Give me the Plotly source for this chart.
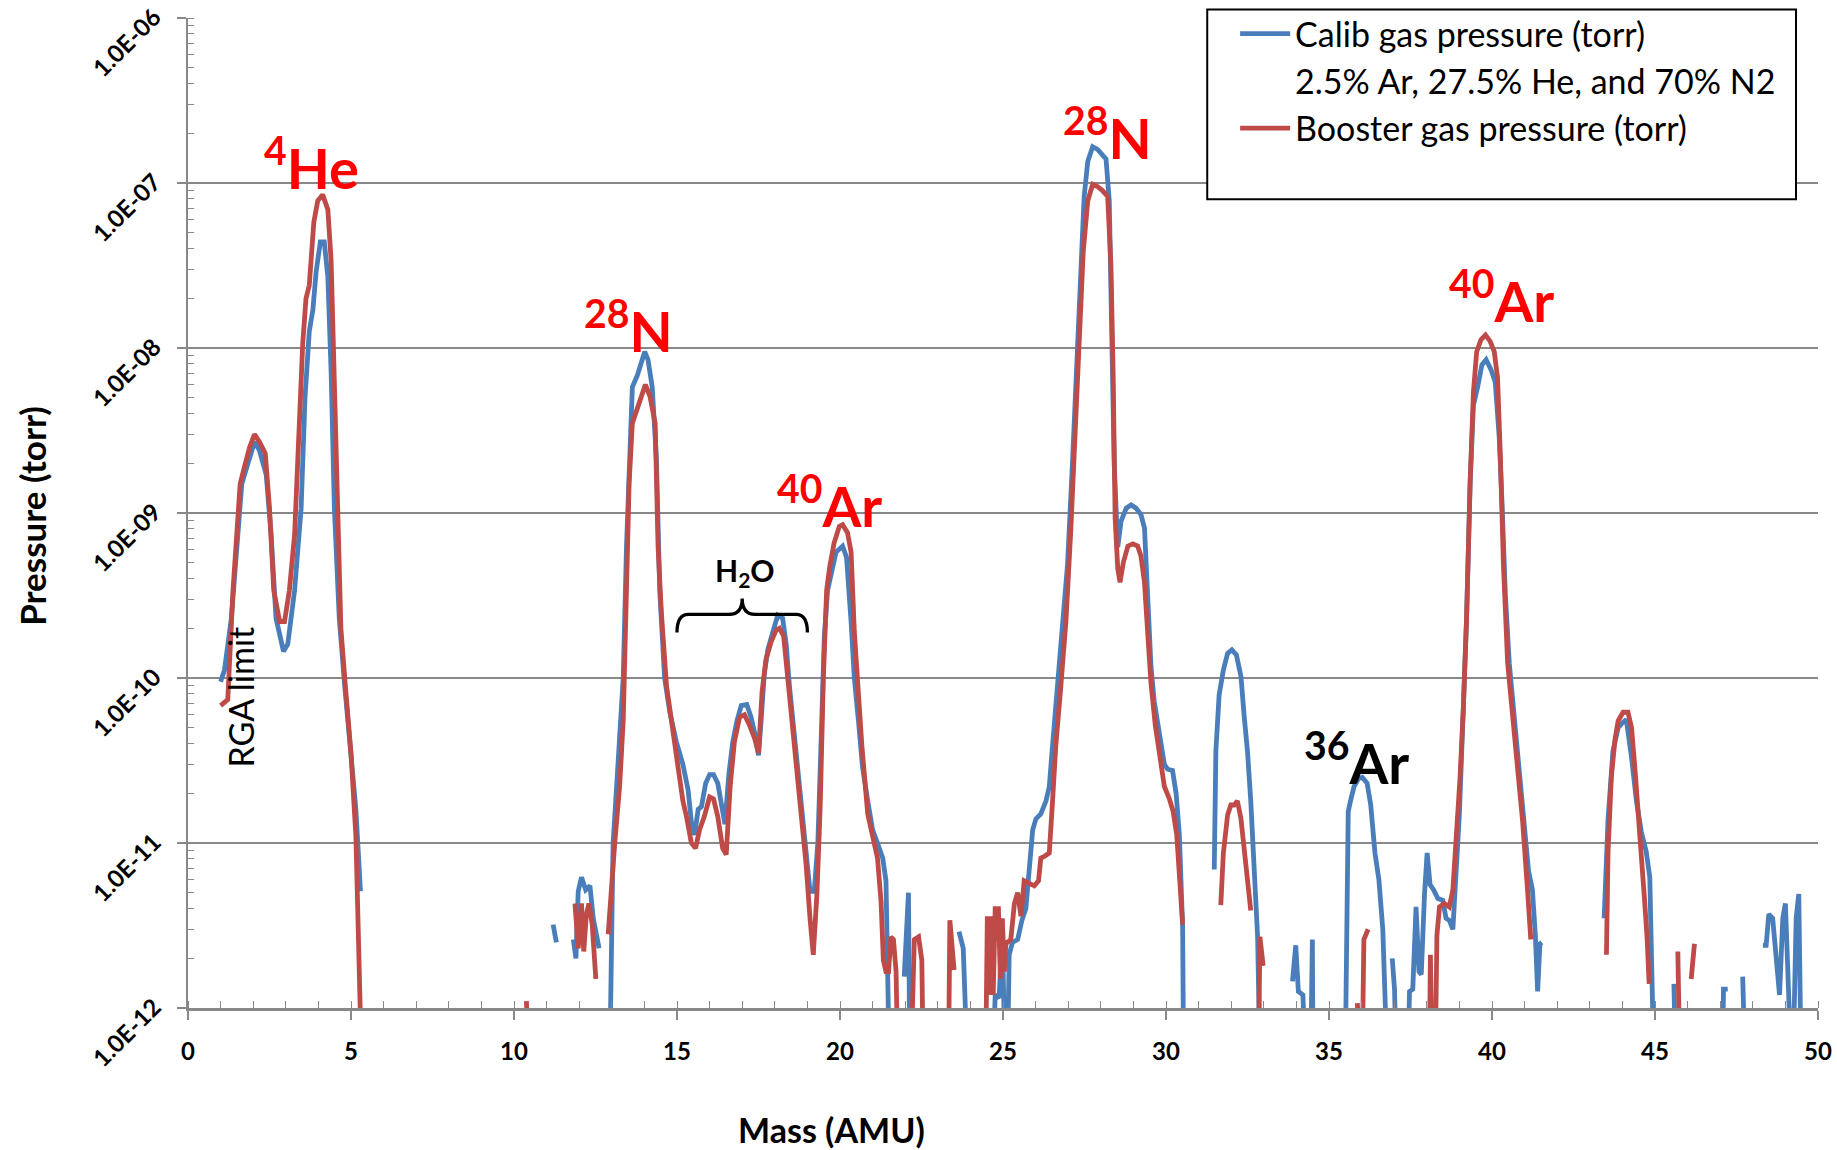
import plotly.graph_objects as go

# ---------------------------------------------------------------------------
# RGA mass scans: partial pressure (torr) vs. mass (AMU).
# None marks readings the RGA reported as non-positive (not drawable on log axis).
# ---------------------------------------------------------------------------
calib_mass = [
    1.0, 1.12, 1.33, 1.53, 1.65, 1.84, 2.04, 2.19, 2.40, 2.55, 2.70, 2.93, 3.06, 3.27,
    3.47, 3.59, 3.72, 3.83, 3.93, 4.06, 4.18, 4.29, 4.39, 4.49, 4.64, 4.80, 5.00, 5.15,
    5.29, 5.40,
    11.2, 11.3, 11.35,
    11.82, 11.9, 11.97, 12.07, 12.2, 12.33, 12.43, 12.61, 12.7,
    12.94, 13.04, 13.19, 13.35, 13.45, 13.53, 13.63, 13.78, 13.91, 14.01, 14.11, 14.24,
    14.37, 14.47, 14.62, 14.78, 14.98, 15.18, 15.34, 15.44, 15.54, 15.65, 15.75, 15.88,
    16.0, 16.12, 16.25, 16.37, 16.47, 16.59, 16.71, 16.84, 16.97, 17.14, 17.27, 17.41,
    17.50, 17.58, 17.68, 17.79, 17.94, 18.09, 18.24, 18.35, 18.45, 18.55, 18.67, 18.81,
    18.96, 19.08, 19.21, 19.32, 19.42, 19.52, 19.62, 19.72, 19.88, 20.08, 20.2, 20.34,
    20.44, 20.57, 20.69, 20.85, 21.0, 21.15, 21.31, 21.41, 21.46, 21.51, 21.6,
    21.97, 22.1, 22.14, 22.2,
    23.65, 23.78, 23.9, 24.0,
    24.7, 24.76, 24.88, 24.98, 25.06, 25.14, 25.19, 25.29, 25.45, 25.58, 25.70, 25.83,
    25.91, 26.01, 26.16, 26.32, 26.42, 26.52, 26.67, 26.83, 26.98, 27.13, 27.26, 27.36,
    27.49, 27.6, 27.75, 27.9, 28.05, 28.16, 28.26, 28.34, 28.41, 28.52, 28.62, 28.78,
    28.93, 29.08, 29.23, 29.34, 29.44, 29.54, 29.64, 29.80, 29.95, 30.05, 30.2, 30.31,
    30.41, 30.51, 30.54, 30.6,
    31.48, 31.53, 31.63, 31.76, 31.89, 32.02, 32.16, 32.3, 32.4, 32.5, 32.6, 32.7,
    32.81, 32.88, 32.95,
    33.88, 33.98, 34.06, 34.2, 34.27, 34.35,
    34.44, 34.49, 34.51, 34.6,
    35.5, 35.59, 35.66, 35.77, 35.9, 36.02, 36.17, 36.28, 36.41, 36.53, 36.65, 36.72,
    36.78, 36.85,
    36.94, 37.01, 37.06, 37.2,
    37.42, 37.47, 37.57, 37.67, 37.76, 37.83, 37.93, 38.01, 38.1, 38.21, 38.34, 38.49,
    38.59, 38.69, 38.8, 38.88, 39.0, 39.12, 39.22, 39.33, 39.43, 39.56, 39.69, 39.82,
    39.97, 40.1, 40.22, 40.31, 40.41, 40.53, 40.68, 40.82, 40.96, 41.12, 41.24, 41.33,
    41.4, 41.47, 41.53, 41.6,
    43.44, 43.56, 43.71, 43.87, 44.02, 44.12, 44.28, 44.43, 44.58, 44.73, 44.84, 44.89,
    44.96, 45.1,
    45.58, 45.63, 45.7,
    47.08, 47.1, 47.23, 47.3,
    47.69, 47.76, 47.8,
    48.31, 48.41, 48.49, 48.61, 48.82, 48.92, 49.0, 49.1, 49.17, 49.24, 49.33, 49.41,
    49.48,
]
calib_torr = [
    9.5e-11, 1.12e-10, 2.3e-10, 8.5e-10, 1.5e-9, 2.0e-9, 2.7e-9, 2.4e-9, 1.7e-9, 7.4e-10,
    2.3e-10, 1.45e-10, 1.6e-10, 3.4e-10, 1.07e-9, 5.0e-9, 1.26e-8, 1.7e-8, 2.9e-8, 4.4e-8,
    4.4e-8, 2.7e-8, 7.2e-9, 1.07e-9, 2.3e-10, 9.3e-11, 3.5e-11, 1.6e-11, 5.1e-12, None,
    3.2e-12, 2.5e-12, None,
    2.6e-12, 2.0e-12, 5.1e-12, 6.2e-12, 5.2e-12, 5.5e-12, 3.5e-12, 2.3e-12, None,
    5e-13, 1.0e-11, 3.0e-11, 1.0e-10, 6.2e-10, 2.1e-9, 5.8e-9, 6.8e-9, 8.3e-9, 9.5e-9,
    8.5e-9, 5.8e-9, 2.1e-9, 3.4e-10, 1.0e-10, 6.2e-11, 4.1e-11, 3.0e-11, 2.1e-11,
    1.35e-11, 1.12e-11, 1.6e-11, 1.66e-11, 2.3e-11, 2.6e-11, 2.6e-11, 2.3e-11, 1.7e-11,
    1.3e-11, 2.6e-11, 4.1e-11, 5.5e-11, 6.8e-11, 6.9e-11, 5.8e-11, 4.4e-11, 3.4e-11,
    5.5e-11, 1.07e-10, 1.5e-10, 1.95e-10, 2.4e-10, 2.3e-10, 1.6e-10, 8.9e-11, 5.5e-11,
    3.2e-11, 1.8e-11, 8.9e-12, 5.1e-12, 5.1e-12, 1.0e-11, 4.1e-11, 1.8e-10, 3.4e-10,
    4.3e-10, 5.8e-10, 6.3e-10, 5.4e-10, 2.2e-10, 1.0e-10, 5.4e-11, 2.9e-11, 1.8e-11,
    1.2e-11, 1.0e-11, 8.1e-12, 5.9e-12, 1.66e-12, 5e-13, None,
    1.55e-12, 5.0e-12, 5e-13, None,
    2.9e-12, 2.3e-12, 5e-13, None,
    5e-13, 1.2e-12, 1.15e-12, 2.9e-12, 5e-13, 5e-13, 2.1e-12, 2.5e-12, 2.6e-12, 3.4e-12,
    4.0e-12, 8.1e-12, 1.2e-11, 1.4e-11, 1.5e-11, 1.8e-11, 2.2e-11, 3.9e-11, 8.7e-11,
    1.9e-10, 4.9e-10, 2.0e-9, 8.5e-9, 2.6e-8, 8.3e-8, 1.35e-7, 1.66e-7, 1.6e-7, 1.5e-7,
    1.4e-7, 7.8e-8, 1.48e-8, 2.0e-9, 6.2e-10, 8.9e-10, 1.07e-9, 1.12e-9, 1.07e-9,
    9.8e-10, 8.1e-10, 3.0e-10, 1.17e-10, 7.2e-11, 4.4e-11, 3.0e-11, 2.8e-11, 2.75e-11,
    2.0e-11, 1.12e-11, 3.1e-12, 5e-13, None,
    6.9e-12, 3.6e-11, 7.9e-11, 1.12e-10, 1.41e-10, 1.48e-10, 1.38e-10, 1.02e-10, 5.8e-11,
    3.6e-11, 1.8e-11, 6.9e-12, 2.7e-12, 5e-13, None,
    1.45e-12, 2.4e-12, 1.26e-12, 1.2e-12, 5e-13, None,
    5e-13, 2.6e-12, 5e-13, None,
    5e-13, 1.55e-11, 1.8e-11, 2.2e-11, 2.45e-11, 2.5e-11, 2.3e-11, 1.7e-11, 8.7e-12,
    6.0e-12, 3.0e-12, 1.5e-12, 5e-13, None,
    2.0e-12, 1.3e-12, 5e-13, None,
    5e-13, 1.26e-12, 1.3e-12, 4.1e-12, 1.66e-12, 1.6e-12, 4.9e-12, 8.7e-12, 5.6e-12,
    5.2e-12, 4.6e-12, 4.5e-12, 3.5e-12, 3.4e-12, 3.0e-12, 5.2e-12, 1.5e-11, 6.5e-11,
    2.3e-10, 1.55e-9, 4.5e-9, 5.8e-9, 7.9e-9, 8.5e-9, 7.4e-9, 6.2e-9, 2.9e-9, 1.12e-9,
    3.2e-10, 1.23e-10, 5.8e-11, 2.7e-11, 1.35e-11, 6.8e-12, 5.2e-12, 2.75e-12, 1.26e-12,
    2.45e-12, 2.5e-12, None,
    3.5e-12, 1.4e-11, 3.6e-11, 5.0e-11, 5.4e-11, 5.6e-11, 3.3e-11, 1.8e-11, 1.17e-11,
    8.9e-12, 6.2e-12, 2.8e-12, 5e-13, None,
    1.4e-12, 5e-13, None,
    5e-13, 1.3e-12, 1.3e-12, None,
    1.55e-12, 5e-13, None,
    2.4e-12, 2.4e-12, 3.7e-12, 3.5e-12, 1.2e-12, 3.5e-12, 4.3e-12, 1.4e-12, 5e-13, 5e-13,
    3.5e-12, 4.9e-12, 5e-13,
]

booster_mass = [
    1.0, 1.22, 1.38, 1.48, 1.60, 1.73, 1.89, 2.04, 2.19, 2.37, 2.50, 2.63, 2.81, 2.96,
    3.11, 3.27, 3.42, 3.52, 3.62, 3.72, 3.86, 3.98, 4.13, 4.29, 4.39, 4.49, 4.59, 4.69,
    4.82, 5.0, 5.15, 5.22, 5.29, 5.32, 5.4,
    10.38, 10.45, 10.5,
    11.87, 11.97, 12.07, 12.14, 12.22, 12.3, 12.4, 12.51, 12.6,
    12.89, 12.99, 13.09, 13.24, 13.35, 13.45, 13.53, 13.63, 13.78, 13.91, 14.03, 14.17,
    14.33, 14.42, 14.52, 14.68, 14.83, 15.03, 15.18, 15.29, 15.44, 15.57, 15.69, 15.84,
    16.0, 16.12, 16.25, 16.4, 16.51, 16.63, 16.76, 16.92, 17.07, 17.22, 17.38, 17.5,
    17.61, 17.73, 17.89, 18.04, 18.14, 18.27, 18.4, 18.52, 18.65, 18.81, 18.96, 19.08,
    19.18, 19.29, 19.39, 19.49, 19.59, 19.69, 19.82, 19.98, 20.08, 20.23, 20.34, 20.44,
    20.54, 20.67, 20.85, 21.0, 21.15, 21.26, 21.33, 21.41, 21.49, 21.56, 21.64, 21.72,
    21.77, 21.9,
    22.18, 22.28, 22.41, 22.51, 22.55, 22.6,
    23.33, 23.37, 23.5, 23.6,
    24.47, 24.52, 24.58, 24.64, 24.7, 24.76, 24.86, 24.92, 24.98, 25.04, 25.09, 25.14,
    25.24, 25.35, 25.45, 25.55, 25.65, 25.81, 25.96, 26.09, 26.16, 26.27, 26.42, 26.52,
    26.62, 26.77, 26.93, 27.08, 27.21, 27.33, 27.46, 27.6, 27.75, 27.9, 28.05, 28.21,
    28.31, 28.38, 28.44, 28.52, 28.59, 28.69, 28.83, 28.98, 29.13, 29.23, 29.34, 29.44,
    29.54, 29.67, 29.8, 29.95, 30.1, 30.22, 30.33, 30.41, 30.51, 30.6,
    31.68, 31.76, 31.89, 31.99, 32.09, 32.19, 32.3, 32.4, 32.5, 32.6, 32.7,
    32.84, 32.88, 32.98, 33.05,
    35.87, 35.95, 36.0,
    36.02, 36.07, 36.2, 36.3,
    38.08, 38.11, 38.16, 38.26, 38.31, 38.39, 38.54, 38.69, 38.8, 38.9, 39.02, 39.12,
    39.22, 39.33, 39.43, 39.53, 39.66, 39.8, 39.94, 40.07, 40.17, 40.26, 40.35, 40.48,
    40.63, 40.79, 40.94, 41.09, 41.19, 41.3,
    43.51, 43.56, 43.66, 43.77, 43.87, 44.02, 44.17, 44.28, 44.38, 44.48, 44.58, 44.68,
    44.76, 44.82, 44.9,
    45.7, 45.76, 45.8,
    46.11, 46.21,
]
booster_torr = [
    6.8e-11, 7.4e-11, 3.4e-10, 7.4e-10, 1.5e-9, 1.9e-9, 2.5e-9, 3.0e-9, 2.7e-9, 2.3e-9,
    1.07e-9, 3.4e-10, 2.2e-10, 2.2e-10, 3.4e-10, 7.4e-10, 3.4e-9, 1.07e-8, 2.0e-8, 2.4e-8,
    5.8e-8, 7.8e-8, 8.5e-8, 6.9e-8, 3.4e-8, 5.0e-9, 1.07e-9, 2.0e-10, 9.3e-11, 3.5e-11,
    1.1e-11, 3.5e-12, 1.0e-12, 5e-13, None,
    1.1e-12, 5e-13, None,
    4.3e-12, 2.3e-12, 4.3e-12, 2.2e-12, 3.7e-12, 4.3e-12, 3.2e-12, 1.5e-12, None,
    2.8e-12, 5.5e-12, 1.0e-11, 2.2e-11, 5.5e-11, 3.4e-10, 1.5e-9, 3.5e-9, 4.3e-9, 5.1e-9,
    6.0e-9, 5.1e-9, 3.5e-9, 6.2e-10, 2.5e-10, 8.9e-11, 5.5e-11, 3.0e-11, 1.8e-11,
    1.45e-11, 1.0e-11, 9.3e-12, 1.2e-11, 1.45e-11, 1.9e-11, 1.85e-11, 1.45e-11, 9.3e-12,
    8.5e-12, 2.2e-11, 4.1e-11, 5.8e-11, 6.0e-11, 5.2e-11, 4.3e-11, 3.5e-11, 8.3e-11,
    1.3e-10, 1.66e-10, 1.95e-10, 2.0e-10, 1.8e-10, 1.0e-10, 5.5e-11, 3.0e-11, 1.45e-11,
    7.4e-12, 3.5e-12, 2.1e-12, 4.8e-12, 1.6e-11, 1.0e-10, 3.4e-10, 4.8e-10, 6.6e-10,
    8.3e-10, 8.5e-10, 7.6e-10, 5.8e-10, 1.9e-10, 8.7e-11, 3.9e-11, 1.5e-11, 1.12e-11,
    8.1e-12, 4.4e-12, 1.95e-12, 1.66e-12, 1.66e-12, 2.7e-12, 2.6e-12, 1.66e-12, 5e-13,
    None,
    5e-13, 2.6e-12, 2.7e-12, 1.95e-12, 5e-13, None,
    5e-13, 3.4e-12, 1.7e-12, None,
    5e-13, 3.6e-12, 1.2e-12, 3.6e-12, 1.2e-12, 4.0e-12, 4.0e-12, 1.5e-12, 3.5e-12,
    1.66e-12, 2.5e-12, 2.5e-12, 2.6e-12, 4.3e-12, 5.0e-12, 3.6e-12, 5.9e-12, 5.7e-12,
    5.5e-12, 5.9e-12, 8.1e-12, 8.3e-12, 8.7e-12, 1.8e-11, 3.9e-11, 8.7e-11, 2.2e-10,
    7.9e-10, 3.0e-9, 1.17e-8, 3.8e-8, 7.8e-8, 9.8e-8, 9.5e-8, 9.0e-8, 8.3e-8, 3.2e-8,
    6.8e-9, 9.3e-10, 4.6e-10, 3.8e-10, 5.0e-10, 6.3e-10, 6.5e-10, 6.3e-10, 5.5e-10,
    3.8e-10, 1.86e-10, 9.3e-11, 5.2e-11, 3.3e-11, 2.2e-11, 1.86e-11, 1.55e-11, 1.12e-11,
    6.9e-12, 3.2e-12, None,
    4.2e-12, 8.7e-12, 1.48e-11, 1.7e-11, 1.7e-11, 1.8e-11, 1.4e-11, 8.7e-12, 5.5e-12,
    3.9e-12, None,
    5e-13, 2.7e-12, 1.8e-12, None,
    1.07e-12, 5e-13, None,
    5e-13, 2.6e-12, 3.0e-12, None,
    5e-13, 2.1e-12, 5e-13, 5e-13, 2.75e-12, 4.1e-12, 4.3e-12, 4.1e-12, 5.2e-12, 9.8e-12,
    2.5e-11, 6.5e-11, 2.3e-10, 1.55e-9, 5.4e-9, 9.5e-9, 1.12e-8, 1.2e-8, 1.1e-8, 9.5e-9,
    6.6e-9, 2.1e-9, 4.9e-10, 1.23e-10, 5.8e-11, 2.7e-11, 1.35e-11, 5.2e-12, 2.6e-12, None,
    2.1e-12, 8.9e-12, 2.5e-11, 4.2e-11, 5.5e-11, 6.2e-11, 6.2e-11, 5.0e-11, 2.9e-11,
    1.66e-11, 9.3e-12, 4.5e-12, 2.6e-12, 1.4e-12, None,
    2.2e-12, 5e-13, None,
    1.5e-12, 2.45e-12,
]

series_names = ["Calib gas pressure (torr)", "Booster gas pressure (torr)"]
calib_mix_note = "2.5% Ar, 27.5% He, and 70% N2"

y_tick_vals = [1e-12, 1e-11, 1e-10, 1e-9, 1e-8, 1e-7, 1e-6]
y_tick_text = ["1.0E-12", "1.0E-11", "1.0E-10", "1.0E-09", "1.0E-08", "1.0E-07", "1.0E-06"]

# peak labels: (mass number, element, mass, log10 pressure, colour)
peak_labels = [
    ("4", "He", 3.79, -6.88, "#FF0000"),
    ("28", "N", 13.50, -7.87, "#FF0000"),
    ("40", "Ar", 19.68, -8.93, "#FF0000"),
    ("28", "N", 28.20, -6.70, "#FF0000"),
    ("40", "Ar", 40.30, -7.69, "#FF0000"),
    ("36", "Ar", 35.85, -10.49, "#000000"),
]

BLUE = "#4A7EBB"
RED = "#BE4B48"
GRID = "#888888"
FONT = "Lato, 'Liberation Sans', sans-serif"

W, H = 1837, 1150
M_L, M_R, M_T, M_B = 188, 19, 18, 142

fig = go.Figure()
fig.add_trace(go.Scatter(
    x=calib_mass, y=calib_torr, mode="lines", name=series_names[0],
    legendgroup="a", line=dict(color=BLUE, width=4.8), connectgaps=False,
))
fig.add_trace(go.Scatter(
    x=[None], y=[None], mode="lines", name=calib_mix_note,
    legendgroup="b", line=dict(color="rgba(0,0,0,0)", width=0), hoverinfo="skip",
))
fig.add_trace(go.Scatter(
    x=booster_mass, y=booster_torr, mode="lines", name=series_names[1],
    legendgroup="c", line=dict(color=RED, width=4.8), connectgaps=False,
))

annotations = []
for sup, elem, mx, ly, col in peak_labels:
    annotations.append(dict(
        x=mx, y=ly, xref="x", yref="y", showarrow=False,
        text=f"<sup>{sup}</sup>{elem}",
        font=dict(family=FONT, size=56, color=col, weight="bold"),
        xanchor="center", yanchor="middle",
    ))

annotations += [
    dict(x=17.09, y=-9.36, xref="x", yref="y", showarrow=False,
         text="H<sub>2</sub>O", font=dict(family=FONT, size=30, color="black", weight="bold"),
         xanchor="center", yanchor="middle"),
    dict(x=1.61, y=-10.115, xref="x", yref="y", showarrow=False, textangle=-90,
         text="RGA limit", font=dict(family=FONT, size=34, color="black"),
         xanchor="center", yanchor="middle"),
    dict(x=0.395, y=-0.1225, xref="paper", yref="paper", showarrow=False,
         text="Mass (AMU)", font=dict(family=FONT, size=34, color="black", weight="bold"),
         xanchor="center", yanchor="middle"),
    dict(x=-0.0954, y=0.4976, xref="paper", yref="paper", showarrow=False, textangle=-90,
         text="Pressure (torr)", font=dict(family=FONT, size=35, color="black", weight="bold"),
         xanchor="center", yanchor="middle"),
]

# curly brace spanning the water region (mass 15-19)
yb, yh, yt = 0.3794, 0.3976, 0.4137
brace = (f"M 15,{yb} Q 15,{yh} 15.35,{yh} L 16.6,{yh} Q 17,{yh} 17,{yt} "
         f"Q 17,{yh} 17.4,{yh} L 18.65,{yh} Q 19,{yh} 19,{yb}")

shapes = [
    dict(type="path", path=brace, xref="x", yref="paper",
         line=dict(color="black", width=3.3)),
    # legend frame
    dict(type="rect", xref="paper", yref="paper", x0=0.6253, x1=0.9865, y0=0.8168, y1=1.0087,
         line=dict(color="black", width=2), fillcolor="white", layer="above"),
]

fig.update_layout(
    width=W, height=H,
    margin=dict(l=M_L, r=M_R, t=M_T, b=M_B, pad=0, autoexpand=False),
    paper_bgcolor="white", plot_bgcolor="white",
    font=dict(family=FONT, color="black"),
    showlegend=True,
    legend=dict(
        x=0.6424, y=1.0131, xanchor="left", yanchor="top",
        bgcolor="rgba(0,0,0,0)", borderwidth=0, itemwidth=50,
        font=dict(family=FONT, size=34, color="black"),
        tracegroupgap=0, traceorder="normal",
    ),
    annotations=annotations,
    shapes=shapes,
    xaxis=dict(
        range=[0, 50], tick0=0, dtick=5, showgrid=False, zeroline=False, automargin=False,
        showline=True, linecolor=GRID, linewidth=2.5,
        ticks="outside", ticklen=9, tickwidth=1.5, tickcolor=GRID,
        tickfont=dict(family=FONT, size=24, color="black", weight="bold"),
        ticklabelstandoff=11,
        minor=dict(dtick=1, ticks="inside", ticklen=7, tickwidth=1.2, tickcolor=GRID, showgrid=False),
    ),
    yaxis=dict(
        type="log", range=[-12, -6], tickmode="array", automargin=False,
        tickvals=y_tick_vals, ticktext=y_tick_text, tickangle=-45,
        showgrid=True, gridcolor=GRID, gridwidth=1.6, zeroline=False,
        showline=True, linecolor=GRID, linewidth=2,
        ticks="outside", ticklen=9, tickwidth=1.5, tickcolor=GRID,
        tickfont=dict(family=FONT, size=24, color="black", weight="bold"),
        ticklabelstandoff=18, ticklabelshift=-4,
        minor=dict(dtick="D1", ticks="inside", ticklen=6, tickwidth=1.2, tickcolor=GRID, showgrid=False),
    ),
)

fig.write_html("out.html")
